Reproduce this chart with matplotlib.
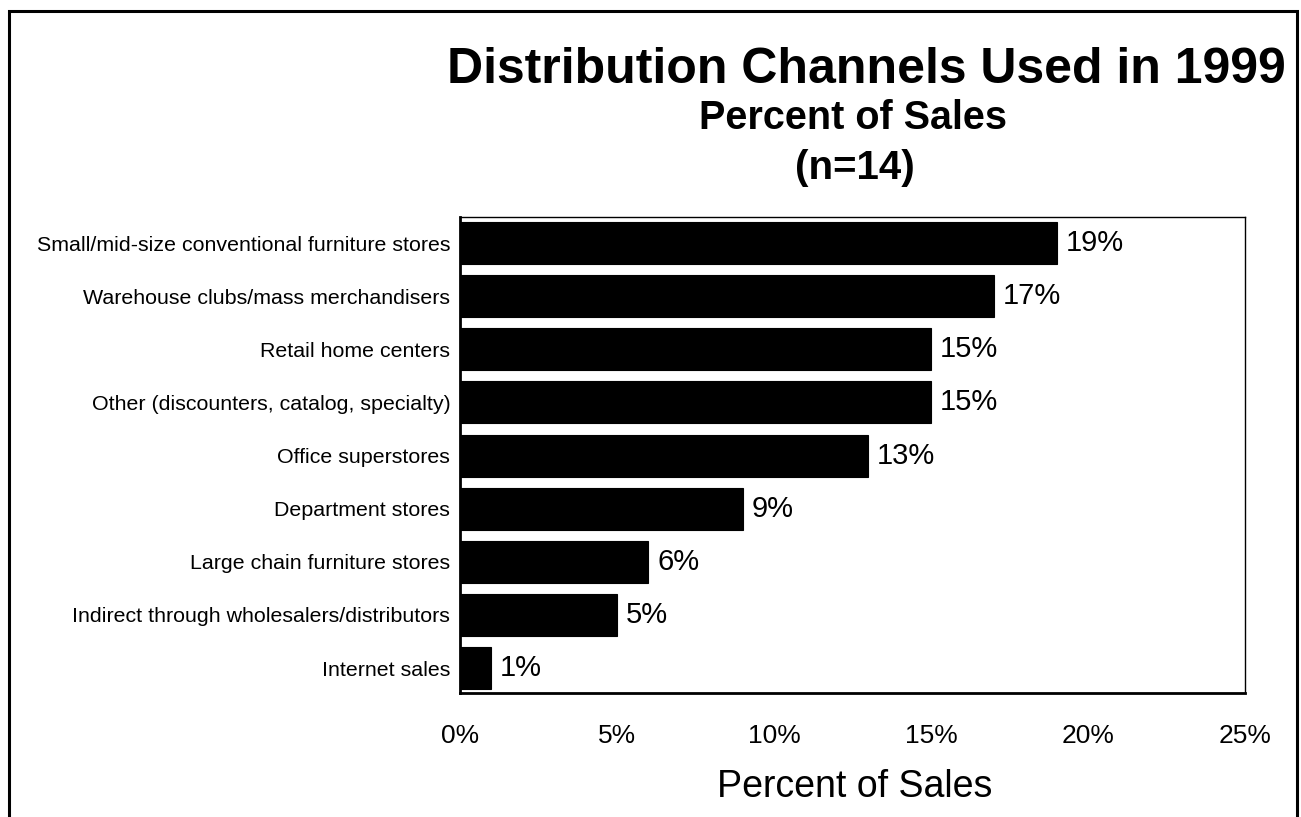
import matplotlib
matplotlib.use("Agg")
import matplotlib.pyplot as plt
from matplotlib import font_manager as fm
from matplotlib.patches import Rectangle
from matplotlib.ticker import FuncFormatter

categories = [
    "Small/mid-size conventional furniture stores",
    "Warehouse clubs/mass merchandisers",
    "Retail home centers",
    "Other (discounters, catalog, specialty)",
    "Office superstores",
    "Department stores",
    "Large chain furniture stores",
    "Indirect through wholesalers/distributors",
    "Internet sales",
]
values = [19, 17, 15, 15, 13, 9, 6, 5, 1]
xticks = [0, 5, 10, 15, 20, 25]

# locate the regular-width Liberation Sans files (avoid the Narrow variant)
reg_file = bold_file = None
for f in fm.findSystemFonts():
    name = f.split("/")[-1]
    if name == "LiberationSans-Regular.ttf":
        reg_file = f
    elif name == "LiberationSans-Bold.ttf":
        bold_file = f

def fp(size, bold=False):
    f = bold_file if bold else reg_file
    if f:
        return fm.FontProperties(fname=f, size=size)
    return fm.FontProperties(family=['Liberation Sans', 'DejaVu Sans'], size=size,
                             weight='bold' if bold else 'normal')

fig = plt.figure(figsize=(13.01, 8.17), dpi=100)
ax = fig.add_axes([460/1301, 1-693/817, (1245-460)/1301, (693-217)/817])

pos = list(range(len(categories)))
ax.barh(pos, values, height=0.79, color='black', edgecolor='black', linewidth=0.8)
for p, v in zip(pos, values):
    ax.text(v + 0.28, p, f"{v}%", va='center', ha='left', fontproperties=fp(21))

ax.set_xlim(0, 25)
ax.set_ylim(8.47, -0.49)
ax.set_yticks(pos)
ax.set_yticklabels(categories)
for lbl in ax.get_yticklabels():
    lbl.set_fontproperties(fp(15.4))
ax.set_xticks(xticks)
ax.xaxis.set_major_formatter(FuncFormatter(lambda x, _: f"{x:.0f}%"))
for lbl in ax.get_xticklabels():
    lbl.set_fontproperties(fp(19))
ax.tick_params(axis='x', length=0, pad=22)
ax.tick_params(axis='y', length=0, pad=7)
for s in ax.spines.values():
    s.set_linewidth(1.0)
ax.spines['bottom'].set_linewidth(2.0)
ax.spines['left'].set_linewidth(2.0)

fig.text(866/1301, 1-83/817, "Distribution Channels Used in 1999", ha='center', va='baseline',
         fontproperties=fp(36, True))
fig.text(853/1301, 1-129/817, "Percent of Sales", ha='center', va='baseline',
         fontproperties=fp(28.5, True))
fig.text(855/1301, 1-179/817, "(n=14)", ha='center', va='baseline',
         fontproperties=fp(29, True))
fig.text(855/1301, 1-797/817, "Percent of Sales", ha='center', va='baseline',
         fontproperties=fp(27))

border = Rectangle((9/1301, -0.05), (1297-9)/1301, 1.05 - 11/817, transform=fig.transFigure,
                   fill=False, edgecolor='black', linewidth=2.2, clip_on=False)
fig.patches.append(border)

fig.savefig("out.png", dpi=100)
